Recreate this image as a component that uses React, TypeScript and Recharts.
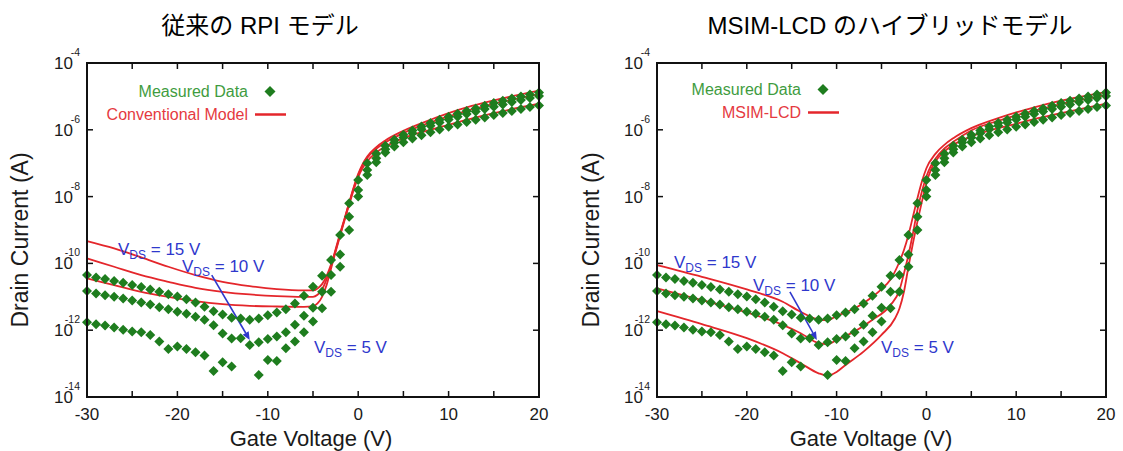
import React from 'react';
import { ComposedChart, Scatter, Line, XAxis, YAxis, ReferenceLine, Legend } from 'recharts';

// ---------- data (log10 of drain current in A) ----------
const gateVoltage = [
  -30, -29, -28, -27, -26, -25, -24, -23, -22, -21, -20, -19, -18, -17, -16, -15, -14, -13, -12, -11,
  -10, -9, -8, -7, -6, -5, -4, -3, -2, -1, 0, 1, 2, 3, 4, 5, 6, 7, 8, 9, 10, 11, 12, 13, 14, 15, 16, 17, 18, 19, 20,
];
const measuredVds15 = [
  -10.35, -10.42, -10.47, -10.53, -10.58, -10.65, -10.71, -10.78, -10.85, -10.92, -10.99, -11.07, -11.17, -11.3, -11.43, -11.53, -11.63, -11.65, -11.69, -11.65,
  -11.55, -11.47, -11.37, -11.2, -10.97, -10.7, -10.37, -9.9, -9.15, -8.2, -7.5, -7.0, -6.72, -6.48, -6.3, -6.15, -6.02, -5.9, -5.8, -5.7, -5.61, -5.52, -5.44, -5.36, -5.28, -5.2, -5.13, -5.06, -5.0, -4.94, -4.88,
];
const measuredVds10 = [
  -10.83, -10.9, -10.95, -11.0, -11.05, -11.11, -11.17, -11.23, -11.31, -11.37, -11.45, -11.51, -11.6, -11.69, -11.85, -12.1, -12.25, -12.24, -12.44, -12.36,
  -12.26, -12.19, -12.06, -11.84, -11.57, -11.33, -10.85, -10.35, -9.73, -8.6, -7.8, -7.2, -6.85, -6.58, -6.38, -6.23, -6.1, -5.98, -5.88, -5.78, -5.69, -5.61, -5.53, -5.45, -5.38, -5.31, -5.24, -5.17, -5.11, -5.05, -4.99,
];
const measuredVds5: (number | null)[] = [
  -11.76, -11.82, -11.86, -11.92, -11.99, -12.04, -12.06, -12.14, -12.34, -12.56, -12.49, -12.56, -12.66, -12.76, -13.22, -12.96, -13.09, null, null, -13.34,
  -12.89, -12.92, -12.54, -12.34, -12.06, -11.74, -11.34, -10.85, -10.1, -9.0, -8.0, -7.35, -6.97, -6.68, -6.5, -6.37, -6.26, -6.16, -6.07, -5.99, -5.91, -5.84, -5.77, -5.7, -5.63, -5.56, -5.5, -5.44, -5.38, -5.32, -5.27,
];

const convX = [-30, -27, -24, -21, -18, -15, -12, -9, -6, -5, -4.5, -4, -3.5, -3, -2.5, -2, -1.5, -1, -0.5, 0, 0.5, 1, 2, 3, 5, 8, 10, 12, 15, 20];
const convVds15 = [-9.33, -9.55, -9.82, -10.1, -10.35, -10.55, -10.68, -10.77, -10.81, -10.81, -10.75, -10.62, -10.38, -10.03, -9.58, -9.1, -8.65, -8.18, -7.72, -7.32, -7.02, -6.8, -6.52, -6.32, -6.03, -5.7, -5.5, -5.33, -5.12, -4.83];
const convVds10 = [-9.85, -10.1, -10.35, -10.55, -10.73, -10.85, -10.93, -10.98, -11.0, -11.0, -10.94, -10.78, -10.48, -10.08, -9.62, -9.13, -8.67, -8.2, -7.75, -7.36, -7.06, -6.84, -6.57, -6.38, -6.1, -5.78, -5.6, -5.43, -5.22, -4.93];
const convVds5 = [-10.45, -10.65, -10.85, -11.0, -11.13, -11.22, -11.27, -11.29, -11.3, -11.28, -11.2, -11.0, -10.65, -10.15, -9.65, -9.17, -8.7, -8.24, -7.8, -7.42, -7.14, -6.94, -6.68, -6.5, -6.25, -6.0, -5.85, -5.7, -5.5, -5.22];

const hybX15 = [-30, -25, -20, -16, -14, -12, -11, -10, -8, -6, -5, -4, -3, -2.5, -2, -1.5, -1, -0.5, 0, 1, 2, 3, 5, 8, 10, 12, 15, 20];
const hybVds15 = [-10.05, -10.4, -10.78, -11.15, -11.45, -11.68, -11.7, -11.57, -11.35, -11.0, -10.77, -10.48, -9.95, -9.6, -9.15, -8.6, -8.05, -7.55, -7.15, -6.72, -6.45, -6.25, -5.95, -5.65, -5.48, -5.33, -5.13, -4.87];
const hybX10 = [-30, -25, -20, -16, -14, -12, -11, -10, -8, -6, -4, -3, -2.5, -2, -1.5, -1, -0.5, 0, 0.5, 1, 2, 3, 5, 8, 10, 12, 15, 20];
const hybVds10 = [-10.75, -11.1, -11.47, -11.84, -12.09, -12.39, -12.42, -12.29, -12.04, -11.69, -11.25, -10.8, -10.3, -9.75, -9.1, -8.4, -7.85, -7.4, -7.08, -6.87, -6.56, -6.36, -6.02, -5.73, -5.57, -5.43, -5.23, -4.96];
const hybX5 = [-30, -25, -20, -16, -14, -12, -11, -10, -9, -7, -5, -3.5, -3, -2.5, -2, -1.5, -1, -0.5, 0, 0.5, 1, 2, 3, 5, 8, 10, 12, 15, 20];
const hybVds5 = [-11.43, -11.82, -12.24, -12.69, -12.99, -13.29, -13.36, -13.25, -13.04, -12.64, -12.14, -11.65, -11.35, -10.85, -10.1, -9.4, -8.75, -8.15, -7.6, -7.2, -6.95, -6.65, -6.45, -6.2, -5.95, -5.82, -5.68, -5.5, -5.22];

const xTicks = [-30, -25, -20, -15, -10, -5, 0, 5, 10, 15, 20];
const yTicks = [1e-14, 1e-12, 1e-10, 1e-8, 1e-6, 1e-4];
const X_DOMAIN: [number, number] = [-30, 20];
const Y_DOMAIN: [number, number] = [1e-14, 1e-4];

// ---------- styles ----------
const SANS = "'Liberation Sans', Arial, Helvetica, sans-serif";
const TITLE_FONT = "'Liberation Sans', 'Noto Sans CJK JP', sans-serif";
const GREEN = '#1e7d1e';
const GREEN_TXT = '#3f9c3f';
const RED = '#e4262b';
const RED_TXT = '#e53a3f';
const BLUE = '#2f38cc';
const INK = '#1a1a1a';
const FRAME = '#111111';
const MEASURED_NAME = 'Measured Data';
const CHART_H = 451;
const TOP_M = 63;
const X_AXIS_H = 54;

type Pt = { x: number; y: number };
const toPoints = (xs: number[], logs: (number | null)[]): Pt[] =>
  xs
    .map((x, i) => (logs[i] == null ? null : { x, y: Math.pow(10, logs[i] as number) }))
    .filter((p): p is Pt => p !== null);

const measured = [toPoints(gateVoltage, measuredVds15), toPoints(gateVoltage, measuredVds10), toPoints(gateVoltage, measuredVds5)];
const convModel = [toPoints(convX, convVds15), toPoints(convX, convVds10), toPoints(convX, convVds5)];
const hybModel = [toPoints(hybX15, hybVds15), toPoints(hybX10, hybVds10), toPoints(hybX5, hybVds5)];

const Diamond = (props: any) => {
  const { cx, cy } = props;
  if (cx == null || cy == null) return <g />;
  const r = 5;
  return <polygon points={`${cx},${cy - r} ${cx + r},${cy} ${cx},${cy + r} ${cx - r},${cy}`} fill={GREEN} />;
};

const XTick = (props: any) => {
  const { x, y, payload } = props;
  if (payload.value % 10 !== 0) return <g />;
  return (
    <text x={x} y={y} textAnchor="middle" fontSize={17} fontFamily={SANS} fill={INK}>
      {payload.value}
    </text>
  );
};

const YTick = (props: any) => {
  const { x, y, payload } = props;
  const e = Math.round(Math.log10(payload.value));
  return (
    <g fontFamily={SANS}>
      <text x={x} y={y + 6} textAnchor="end" fontSize={17} fill={INK}>
        10
      </text>
      <text x={x + 7} y={y - 7} textAnchor="end" fontSize={10.5} fill={INK}>
        {e}
      </text>
    </g>
  );
};

const Arrow = (props: any) => {
  const { x1, y1, x2, y2 } = props;
  if ([x1, y1, x2, y2].some((v) => v == null)) return <g />;
  const ang = Math.atan2(y2 - y1, x2 - x1);
  const len = 8;
  const w = 3.5;
  const bx = x2 - len * Math.cos(ang);
  const by = y2 - len * Math.sin(ang);
  const px = -Math.sin(ang) * w;
  const py = Math.cos(ang) * w;
  return (
    <g>
      <line x1={x1} y1={y1} x2={bx} y2={by} stroke={BLUE} strokeWidth={1.6} />
      <polygon points={`${x2},${y2} ${bx + px},${by + py} ${bx - px},${by - py}`} fill={BLUE} />
    </g>
  );
};

const LegendRows = ({ names }: { names: string[] }) => (
  <div>
    {names.map((name) => {
      const isData = name === MEASURED_NAME;
      return (
        <div key={name} style={{ display: 'flex', justifyContent: 'flex-end', alignItems: 'center', height: 23 }}>
          <span
            style={{
              fontSize: 16,
              fontFamily: SANS,
              color: isData ? GREEN_TXT : RED_TXT,
              whiteSpace: 'nowrap',
              lineHeight: '23px',
            }}
          >
            {name}
          </span>
          <svg width={44} height={23} style={{ display: 'block' }}>
            {isData ? (
              <polygon points="22,6 27.5,11.5 22,17 16.5,11.5" fill={GREEN} />
            ) : (
              <line x1={7} x2={38} y1={11.5} y2={11.5} stroke={RED} strokeWidth={2.5} />
            )}
          </svg>
        </div>
      );
    })}
  </div>
);

const makeLegend = (modelName: string) => (props: any) => {
  const all = props.payload || [];
  const names = [MEASURED_NAME, modelName].filter((n) => all.some((e: any) => e.value === n));
  return <LegendRows names={names} />;
};

type PanelCfg = {
  left: number;
  width: number;
  axisWidth: number;
  rightMargin: number;
  models: Pt[][];
  modelName: string;
  legendTop: number;
  legendRight: number;
  arrow: [Pt, Pt];
};

const leftPanel: PanelCfg = {
  left: 0,
  width: 561,
  axisWidth: 87,
  rightMargin: 22,
  models: convModel,
  modelName: 'Conventional Model',
  legendTop: 79.5,
  legendRight: 248,
  arrow: [
    { x: -16.2, y: Math.pow(10, -10.35) },
    { x: -12.0, y: Math.pow(10, -12.29) },
  ],
};
const rightPanel: PanelCfg = {
  left: 561,
  width: 562,
  axisWidth: 96,
  rightMargin: 17,
  models: hybModel,
  modelName: 'MSIM-LCD',
  legendTop: 77.5,
  legendRight: 240,
  arrow: [
    { x: -15.2, y: Math.pow(10, -10.85) },
    { x: -12.2, y: Math.pow(10, -12.29) },
  ],
};

function Panel({ width, axisWidth, rightMargin, models, modelName, legendTop, legendRight, arrow }: PanelCfg) {
  return (
    <ComposedChart width={width} height={CHART_H} margin={{ top: TOP_M, right: rightMargin, bottom: 0, left: 0 }}>
      <XAxis
        dataKey="x"
        type="number"
        domain={X_DOMAIN}
        ticks={xTicks}
        height={X_AXIS_H}
        tickSize={0}
        tickMargin={23}
        tick={<XTick />}
        tickLine={false}
        axisLine={false}
      />
      <YAxis
        dataKey="y"
        type="number"
        scale="log"
        domain={Y_DOMAIN}
        ticks={yTicks}
        width={axisWidth}
        tickSize={0}
        tickMargin={14}
        tick={<YTick />}
        tickLine={false}
        axisLine={false}
      />
      {measured.map((pts, i) => (
        <Scatter
          key={`m${i}`}
          data={pts}
          dataKey="y"
          name={i === 0 ? MEASURED_NAME : `Measured ${i}`}
          legendType={i === 0 ? 'diamond' : 'none'}
          shape={<Diamond />}
          isAnimationActive={false}
        />
      ))}
      {models.map((pts, i) => (
        <Line
          key={`l${i}`}
          data={pts}
          dataKey="y"
          type="monotone"
          name={i === 0 ? modelName : `${modelName} ${i}`}
          legendType={i === 0 ? 'line' : 'none'}
          stroke={RED}
          strokeWidth={1.8}
          dot={false}
          activeDot={false}
          isAnimationActive={false}
        />
      ))}
      <ReferenceLine segment={arrow} ifOverflow="visible" shape={<Arrow />} />
      <Legend
        layout="vertical"
        align="center"
        verticalAlign="middle"
        wrapperStyle={{ left: 0, top: legendTop, width: legendRight + 44 }}
        content={makeLegend(modelName)}
      />
    </ComposedChart>
  );
}

// plot frame with inward ticks, laid over the chart using the chart's plot-area geometry
const PlotFrame = ({ cfg }: { cfg: PanelCfg }) => {
  const x0 = cfg.left + cfg.axisWidth;
  const x1 = cfg.left + cfg.width - cfg.rightMargin;
  const y0 = TOP_M;
  const y1 = CHART_H - X_AXIS_H;
  const px = (v: number) => x0 + ((v - X_DOMAIN[0]) / (X_DOMAIN[1] - X_DOMAIN[0])) * (x1 - x0);
  const ly0 = Math.log10(Y_DOMAIN[1]);
  const ly1 = Math.log10(Y_DOMAIN[0]);
  const py = (v: number) => y0 + ((ly0 - Math.log10(v)) / (ly0 - ly1)) * (y1 - y0);
  const T = 6;
  const parts: React.ReactElement[] = [];
  parts.push(<rect key="top" x={x0 - 1} y={y0 - 1} width={x1 - x0 + 2} height={2} fill={FRAME} />);
  parts.push(<rect key="bot" x={x0 - 1} y={y1 - 1} width={x1 - x0 + 2} height={2} fill={FRAME} />);
  parts.push(<rect key="lft" x={x0 - 1} y={y0 - 1} width={2} height={y1 - y0 + 2} fill={FRAME} />);
  parts.push(<rect key="rgt" x={x1 - 1} y={y0 - 1} width={2} height={y1 - y0 + 2} fill={FRAME} />);
  xTicks.forEach((v) => {
    parts.push(<rect key={`xb${v}`} x={px(v) - 0.75} y={y1 - T} width={1.5} height={T} fill={FRAME} />);
    parts.push(<rect key={`xt${v}`} x={px(v) - 0.75} y={y0} width={1.5} height={T} fill={FRAME} />);
  });
  yTicks.forEach((v) => {
    parts.push(<rect key={`yl${v}`} x={x0} y={py(v) - 0.75} width={T} height={1.5} fill={FRAME} />);
    parts.push(<rect key={`yr${v}`} x={x1 - T} y={py(v) - 0.75} width={T} height={1.5} fill={FRAME} />);
  });
  return <>{parts}</>;
};

const VdsLabel = ({ x, y, v }: { x: number; y: number; v: string }) => (
  <text x={x} y={y} fill={BLUE} fontSize={17} fontFamily={SANS}>
    V
    <tspan fontSize={12} dy={4}>
      DS
    </tspan>
    <tspan dy={-4}>{` = ${v} V`}</tspan>
  </text>
);

export default function App() {
  return (
    <div style={{ position: 'absolute', left: 0, top: 0, width: 1123, height: 451, background: '#fff' }}>
      <div style={{ position: 'absolute', left: leftPanel.left, top: 0 }}>
        <Panel {...leftPanel} />
      </div>
      <div style={{ position: 'absolute', left: rightPanel.left, top: 0 }}>
        <Panel {...rightPanel} />
      </div>
      <svg width={1123} height={451} style={{ position: 'absolute', left: 0, top: 0, pointerEvents: 'none' }}>
        <PlotFrame cfg={leftPanel} />
        <PlotFrame cfg={rightPanel} />
        <text x={260} y={34} textAnchor="middle" fontSize={24} fontFamily={TITLE_FONT} fill="#000">
          従来の RPI モデル
        </text>
        <text x={890} y={34} textAnchor="middle" fontSize={24} fontFamily={TITLE_FONT} fill="#000">
          MSIM-LCD のハイブリッドモデル
        </text>
        <text transform="translate(28,240) rotate(-90)" textAnchor="middle" fontSize={23} fontFamily={SANS} fill={INK}>
          Drain Current (A)
        </text>
        <text transform="translate(599,240) rotate(-90)" textAnchor="middle" fontSize={23} fontFamily={SANS} fill={INK}>
          Drain Current (A)
        </text>
        <text x={311} y={446} textAnchor="middle" fontSize={22} fontFamily={SANS} fill={INK}>
          Gate Voltage (V)
        </text>
        <text x={871} y={446} textAnchor="middle" fontSize={22} fontFamily={SANS} fill={INK}>
          Gate Voltage (V)
        </text>
        <VdsLabel x={118} y={255} v="15" />
        <VdsLabel x={182} y={272} v="10" />
        <VdsLabel x={314} y={353} v="5" />
        <VdsLabel x={674} y={268} v="15" />
        <VdsLabel x={753} y={291} v="10" />
        <VdsLabel x={881} y={353} v="5" />
      </svg>
    </div>
  );
}
